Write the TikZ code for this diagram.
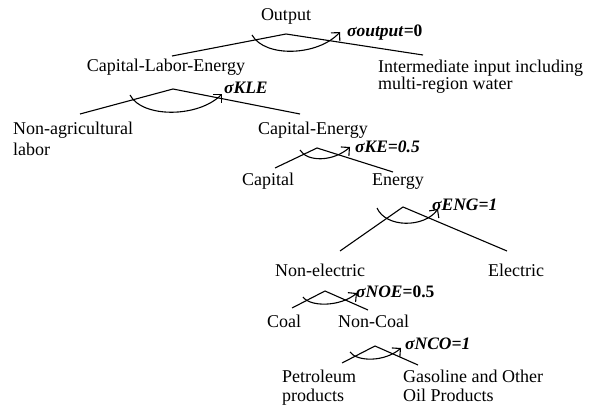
\documentclass[tikz,border=0pt]{standalone}
\usepackage{fontspec}
\setmainfont{Liberation Serif}
\usetikzlibrary{arrows.meta}
\begin{document}
\begin{tikzpicture}[x=1pt,y=1pt,
  branch/.style={line width=1.1pt},
  subst/.style={line width=1.1pt,-{Straight Barb[length=6pt,width=12pt]}},
  lbl/.style={inner sep=0pt,anchor=base west,font=\fontsize{18}{20}\selectfont},
  sig/.style={inner sep=0pt,anchor=base west,font=\fontsize{17.5}{20}\selectfont\bfseries\itshape}]
\useasboundingbox (0,0) rectangle (589,410);
% ---------- tree 1
\node[lbl,anchor=base] (out) at (286,389) {Output};
\node[lbl,anchor=base] (kle) at (166,338) {Capital-Labor-Energy};
\node[lbl] (inter) at (378,337) {Intermediate input including};
\node[lbl] (inter2) at (378,320) {multi-region water};
\node[sig] (s1) at (347,373) {σoutput\textup{=0}};
\coordinate (a1) at (286,376);
\coordinate (l1) at (172,354);
\coordinate (r1) at (423,355);
\coordinate (c1s) at (252,375);
\coordinate (c1e) at (340,378);
\draw[branch] (l1) -- (a1) -- (r1);
\draw[subst] (c1s) .. controls (265,352) and (318,354) .. (c1e);
% ---------- tree 2
\node[lbl] (nal) at (13,275) {Non-agricultural};
\node[lbl] (nal2) at (13,254) {labor};
\node[lbl] (ke) at (258,275) {Capital-Energy};
\node[sig] (s2) at (224,316) {σKLE};
\coordinate (a2) at (173,321);
\coordinate (l2) at (80,296);
\coordinate (r2) at (300,296);
\coordinate (c2s) at (130,315);
\coordinate (c2e) at (222,316);
\draw[branch] (l2) -- (a2) -- (r2);
\draw[subst] (c2s) .. controls (142,292) and (198,292) .. (c2e);
% ---------- tree 3
\node[lbl] (cap) at (242,224) {Capital};
\node[lbl] (eng) at (372,224) {Energy};
\node[sig] (s3) at (355,257) {σKE=0.5};
\coordinate (a3) at (317,262);
\coordinate (l3) at (275,242);
\coordinate (r3) at (393,238);
\coordinate (c3s) at (300,260);
\coordinate (c3e) at (350,263);
\draw[branch] (l3) -- (a3) -- (r3);
\draw[subst] (c3s) .. controls (307,248) and (333,248) .. (c3e);
% ---------- tree 4
\node[lbl] (nel) at (275,133) {Non-electric};
\node[lbl] (el) at (488,133) {Electric};
\node[sig] (s4) at (432,199) {σENG=1};
\coordinate (a4) at (403,203);
\coordinate (l4) at (340,159);
\coordinate (r4) at (507,159);
\coordinate (c4s) at (377,202);
\coordinate (c4e) at (438,201);
\draw[branch] (l4) -- (a4) -- (r4);
\draw[subst] (c4s) .. controls (386,182) and (424,182) .. (c4e);
% ---------- tree 5
\node[lbl] (coal) at (267,83) {Coal};
\node[lbl] (ncoal) at (338,83) {Non-Coal};
\node[sig] (s5) at (356,113) {σNOE\textup{=0.5}};
\coordinate (a5) at (325,119);
\coordinate (l5) at (292,102);
\coordinate (r5) at (368,100);
\coordinate (c5s) at (303,113);
\coordinate (c5e) at (357,117);
\draw[branch] (l5) -- (a5) -- (r5);
\draw[subst] (c5s) .. controls (310,103) and (340,103) .. (c5e);
% ---------- tree 6
\node[lbl] (pet) at (282,28) {Petroleum};
\node[lbl] (pet2) at (282,9) {products};
\node[lbl] (gas) at (403,28) {Gasoline and Other};
\node[lbl] (gas2) at (403,9) {Oil Products};
\node[sig] (s6) at (405,61) {σNCO=1};
\coordinate (a6) at (375,64);
\coordinate (l6) at (342,47);
\coordinate (r6) at (418,45);
\coordinate (c6s) at (350,58);
\coordinate (c6e) at (401,62);
\draw[branch] (l6) -- (a6) -- (r6);
\draw[subst] (c6s) .. controls (357,48) and (385,48) .. (c6e);
\end{tikzpicture}
\end{document}
